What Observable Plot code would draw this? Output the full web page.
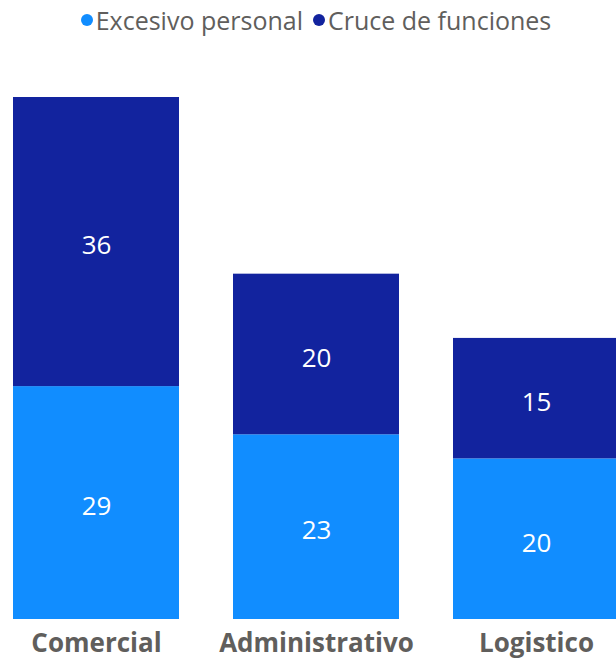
<!DOCTYPE html>
<html>
<head>
<meta charset="utf-8">
<script src="https://cdn.jsdelivr.net/npm/d3@7"></script>
<script src="https://cdn.jsdelivr.net/npm/@observablehq/plot@0.6"></script>
<style>
  html, body { margin: 0; padding: 0; background: #fff; width: 616px; height: 663px; overflow: hidden; }
  #legend { height: 40px; display: flex; justify-content: center; align-items: center; font-family: "Open Sans", sans-serif; font-size: 25px; color: #605E5C; gap: 10px; padding-left: 16px; box-sizing: border-box; }
  #legend .item { display: flex; align-items: center; }
  #legend .dot { width: 12px; height: 12px; border-radius: 50%; display: inline-block; margin-right: 3px; }
  svg { display: block; }
</style>
</head>
<body>
<div id="legend"></div>
<div id="chart"></div>
<script>
const categories = ["Comercial", "Administrativo", "Logistico"];
const series = ["Excesivo personal", "Cruce de funciones"];
const excesivo = [29, 23, 20];
const cruce = [36, 20, 15];
const colors = ["#118DFF", "#12239E"];

const data = [];
categories.forEach((c, i) => {
  data.push({category: c, series: series[0], value: excesivo[i]});
  data.push({category: c, series: series[1], value: cruce[i]});
});

const legend = document.getElementById("legend");
series.forEach((s, i) => {
  const it = document.createElement("span");
  it.className = "item";
  const d = document.createElement("span");
  d.className = "dot";
  d.style.background = colors[i];
  it.appendChild(d);
  it.appendChild(document.createTextNode(s));
  legend.appendChild(it);
});

const chart = Plot.plot({
  width: 616,
  height: 623,
  marginTop: 57,
  marginBottom: 44,
  marginLeft: 0,
  marginRight: 0,
  style: {fontFamily: "Open Sans, sans-serif", overflow: "hidden"},
  x: {domain: categories, range: [12, 619], paddingInner: 0.247, paddingOuter: 0, label: null},
  y: {domain: [0, 65], axis: null},
  color: {domain: series, range: colors},
  marks: [
    Plot.barY(data, Plot.stackY({x: "category", y: "value", fill: "series", z: "series", order: series})),
    Plot.text(data, Plot.stackY({x: "category", y: "value", z: "series", order: series, text: d => String(d.value), fill: "white", fontSize: 26, dy: 4})),
    Plot.axisX({tickSize: 0, tickPadding: 14, fontSize: 26, fontWeight: "bold", fill: "#605E5C", label: null})
  ]
});
document.getElementById("chart").appendChild(chart);
</script>
</body>
</html>
